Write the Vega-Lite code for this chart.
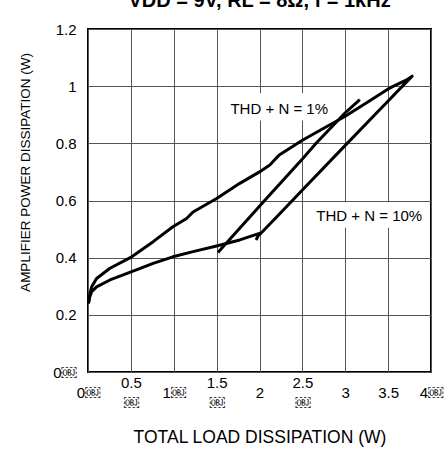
{
  "$schema": "https://vega.github.io/schema/vega-lite/v6.json",
  "autosize": {"type": "none"},
  "padding": {"left": 88, "top": 29, "right": 17, "bottom": 79},
  "width": 343,
  "height": 343,
  "background": "white",
  "config": {
    "font": "Liberation Sans",
    "view": {"stroke": "black", "strokeWidth": 2},
    "axis": {"gridColor": "#555555", "gridWidth": 1, "gridOpacity": 1, "ticks": false, "domain": false, "labelColor": "black", "titleColor": "black", "titleFontWeight": "normal", "labelFont": "Liberation Sans", "titleFont": "Liberation Sans"}
  },
  "title": {"text": "VDD = 9V, RL = 8Ω, f = 1kHz", "fontSize": 20, "fontWeight": "bold", "font": "Liberation Sans", "anchor": "middle", "baseline": "alphabetic", "offset": -5, "color": "black"},
  "datasets": {
    "curves": [
      {"series": "A", "order": 1, "x": 0.005, "y": 0.24},
      {"series": "A", "order": 2, "x": 0.02, "y": 0.27},
      {"series": "A", "order": 3, "x": 0.043, "y": 0.298},
      {"series": "A", "order": 4, "x": 0.10, "y": 0.327},
      {"series": "A", "order": 5, "x": 0.256, "y": 0.363},
      {"series": "A", "order": 6, "x": 0.51, "y": 0.403},
      {"series": "A", "order": 7, "x": 0.76, "y": 0.456},
      {"series": "A", "order": 8, "x": 0.99, "y": 0.508},
      {"series": "A", "order": 9, "x": 1.15, "y": 0.537},
      {"series": "A", "order": 10, "x": 1.225, "y": 0.56},
      {"series": "A", "order": 11, "x": 1.5, "y": 0.607},
      {"series": "A", "order": 12, "x": 1.77, "y": 0.66},
      {"series": "A", "order": 13, "x": 2.0, "y": 0.70},
      {"series": "A", "order": 14, "x": 2.12, "y": 0.724},
      {"series": "A", "order": 15, "x": 2.23, "y": 0.759},
      {"series": "A", "order": 16, "x": 2.5, "y": 0.811},
      {"series": "A", "order": 17, "x": 2.78, "y": 0.858},
      {"series": "A", "order": 18, "x": 2.99, "y": 0.893},
      {"series": "A", "order": 19, "x": 3.24, "y": 0.94},
      {"series": "A", "order": 20, "x": 3.51, "y": 0.992},
      {"series": "A", "order": 21, "x": 3.71, "y": 1.021},
      {"series": "A", "order": 22, "x": 3.78, "y": 1.035},
      {"series": "A", "order": 23, "x": 3.5, "y": 0.948},
      {"series": "A", "order": 24, "x": 3.0, "y": 0.793},
      {"series": "A", "order": 25, "x": 2.5, "y": 0.637},
      {"series": "A", "order": 26, "x": 2.25, "y": 0.558},
      {"series": "A", "order": 27, "x": 2.0, "y": 0.48},
      {"series": "B", "order": 1, "x": 0.005, "y": 0.24},
      {"series": "B", "order": 2, "x": 0.02, "y": 0.262},
      {"series": "B", "order": 3, "x": 0.043, "y": 0.281},
      {"series": "B", "order": 4, "x": 0.10, "y": 0.298},
      {"series": "B", "order": 5, "x": 0.256, "y": 0.322},
      {"series": "B", "order": 6, "x": 0.51, "y": 0.351},
      {"series": "B", "order": 7, "x": 0.76, "y": 0.38},
      {"series": "B", "order": 8, "x": 0.99, "y": 0.403},
      {"series": "B", "order": 9, "x": 1.225, "y": 0.421},
      {"series": "B", "order": 10, "x": 1.5, "y": 0.441},
      {"series": "B", "order": 11, "x": 1.77, "y": 0.462},
      {"series": "B", "order": 12, "x": 2.0, "y": 0.485},
      {"series": "B", "order": 13, "x": 1.96, "y": 0.462},
      {"series": "C", "order": 1, "x": 1.515, "y": 0.418},
      {"series": "C", "order": 2, "x": 2.06, "y": 0.6},
      {"series": "C", "order": 3, "x": 2.5, "y": 0.745},
      {"series": "C", "order": 4, "x": 2.66, "y": 0.8},
      {"series": "C", "order": 5, "x": 3.0, "y": 0.907},
      {"series": "C", "order": 6, "x": 3.17, "y": 0.953}
    ],
    "labels": [
      {"label": "THD + N = 1%", "x": 2.23, "y": 0.92},
      {"label": "THD + N = 10%", "x": 3.28, "y": 0.545}
    ],
    "boxes": [
      {"x": 1.6, "x2": 2.86, "y": 0.88, "y2": 0.975},
      {"x": 2.64, "x2": 3.92, "y": 0.505, "y2": 0.594}
    ]
  },
  "encoding": {
    "x": {"type": "quantitative", "scale": {"domain": [0, 4], "nice": false}},
    "y": {"type": "quantitative", "scale": {"domain": [0, 1.2], "nice": false}}
  },
  "layer": [
    {
      "data": {"name": "boxes"},
      "mark": {"type": "rect", "fill": "white", "stroke": null},
      "encoding": {
        "x": {"field": "x", "type": "quantitative", "scale": {"domain": [0, 4], "nice": false},
          "axis": {"values": [0, 0.5, 1, 1.5, 2, 2.5, 3, 3.5, 4], "title": "TOTAL LOAD DISSIPATION (W)", "titleFontSize": 17.5, "titleY": 65, "titleBaseline": "middle", "labelFontSize": 15, "labelLineHeight": 20, "labelBaseline": "top", "labelFlush": false,
            "labelPadding": {"condition": {"test": "datum.value == 0.5 || datum.value == 1.5 || datum.value == 2.5", "value": 3}, "value": 13},
            "labelExpr": "datum.value == 0 ? '0\uFFFC' : datum.value == 0.5 ? ['0.5', '\uFFFC'] : datum.value == 1 ? '1\uFFFC' : datum.value == 1.5 ? ['1.5', '\uFFFC'] : datum.value == 2 ? '2' : datum.value == 2.5 ? ['2.5', '\uFFFC'] : datum.value == 3 ? '3' : datum.value == 3.5 ? '3.5' : '4\uFFFC'"}},
        "x2": {"field": "x2"},
        "y": {"field": "y", "type": "quantitative", "scale": {"domain": [0, 1.2], "nice": false},
          "axis": {"values": [0, 0.2, 0.4, 0.6, 0.8, 1, 1.2], "title": "AMPLIFIER POWER DISSIPATION (W)", "titleFontSize": 13.5, "titleX": -63, "titleY": 143, "titleBaseline": "middle", "labelFontSize": 15, "labelPadding": 12, "labelFlush": false,
            "labelExpr": "datum.value == 0 ? '0\uFFFC' : '' + datum.value"}},
        "y2": {"field": "y2"}
      }
    },
    {
      "data": {"name": "curves"},
      "mark": {"type": "line", "color": "black", "strokeWidth": 3, "strokeJoin": "round", "strokeCap": "butt"},
      "encoding": {
        "x": {"field": "x", "type": "quantitative"},
        "y": {"field": "y", "type": "quantitative"},
        "detail": {"field": "series"},
        "order": {"field": "order", "type": "quantitative"}
      }
    },
    {
      "data": {"name": "labels"},
      "mark": {"type": "text", "fontSize": 15, "color": "black", "font": "Liberation Sans"},
      "encoding": {
        "x": {"field": "x", "type": "quantitative"},
        "y": {"field": "y", "type": "quantitative"},
        "text": {"field": "label"}
      }
    }
  ]
}
